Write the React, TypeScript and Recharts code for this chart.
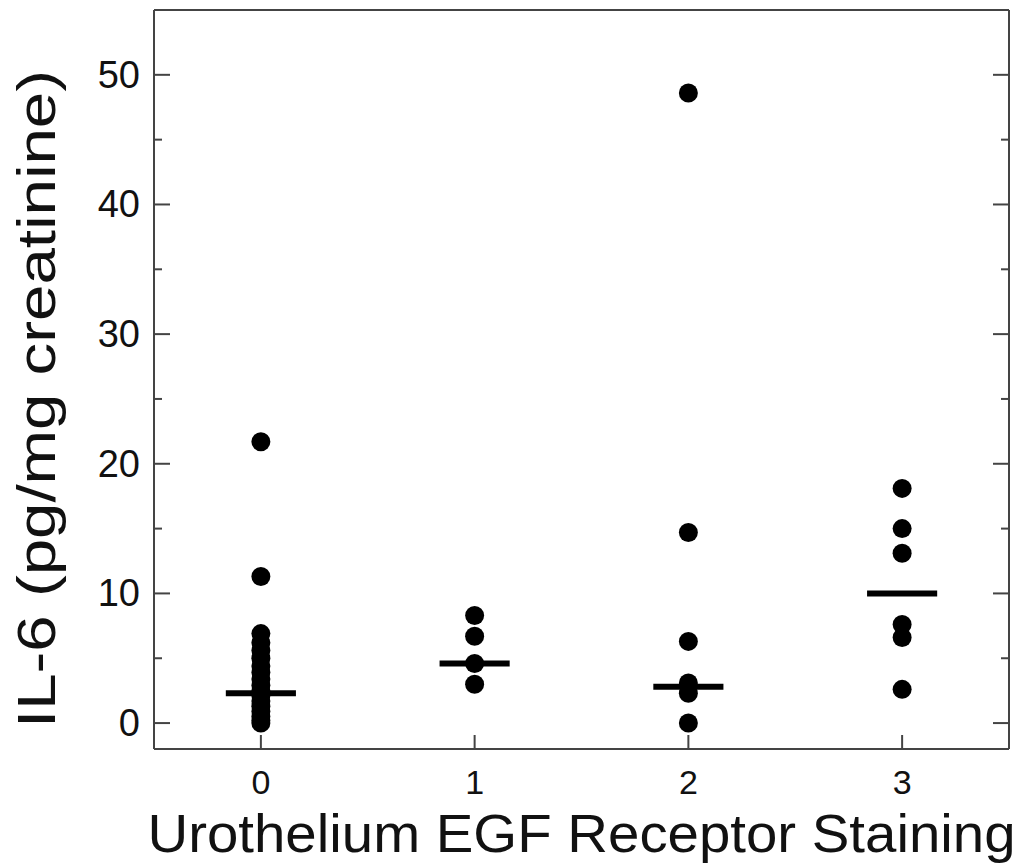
import React from 'react';
import { ScatterChart, Scatter, XAxis, YAxis, ReferenceLine } from 'recharts';

// Staining score groups on the x axis
const stainingScores: number[] = [0, 1, 2, 3];

// IL-6 values (pg/mg creatinine)
const score0Values: number[] = [
  21.7, 11.3, 6.9, 6.2, 5.6, 5.0, 4.4, 3.9, 3.4, 2.9, 2.5, 2.1, 1.7, 1.3, 0.9, 0.5, 0.2, 0.0,
];
const score1Values: number[] = [8.3, 6.7, 4.6, 3.0];
const score2Values: number[] = [48.6, 14.7, 6.3, 3.1, 2.3, 0.0];
const score3Values: number[] = [18.1, 15.0, 13.1, 7.6, 6.6, 2.6];

// Median bar for each group
const medianValues: number[] = [2.3, 4.6, 2.8, 10.0];

// Axis ticks
const yTicks: number[] = [0, 5, 10, 15, 20, 25, 30, 35, 40, 45, 50];
const xTicks: number[] = stainingScores;

const FONT = '"Liberation Sans", Arial, Helvetica, sans-serif';
const AXIS_COLOR = '#444';
const MEDIAN_HALF_WIDTH = 0.164;

const groups = [score0Values, score1Values, score2Values, score3Values];
const points = groups.flatMap((vals, i) =>
  vals.map((v) => ({ x: stainingScores[i], y: v }))
);

const LeftTick = (props: any) => {
  const { x, y, payload } = props;
  const major = payload.value % 10 === 0;
  return (
    <g>
      <line x1={x} y1={y} x2={x + (major ? 16 : 8)} y2={y} stroke={AXIS_COLOR} strokeWidth={2} />
      {major && (
        <text x={x - 14} y={y + 13} textAnchor="end" fontSize={38} fontFamily={FONT} fill="#111">
          {payload.value}
        </text>
      )}
    </g>
  );
};

const RightTick = (props: any) => {
  const { x, y, payload } = props;
  const major = payload.value % 10 === 0;
  return (
    <line x1={x} y1={y} x2={x - (major ? 16 : 8)} y2={y} stroke={AXIS_COLOR} strokeWidth={2} />
  );
};

const BottomTick = (props: any) => {
  const { x, y, payload } = props;
  return (
    <g>
      <line x1={x} y1={y} x2={x} y2={y - 14} stroke={AXIS_COLOR} strokeWidth={2} />
      <text x={x} y={y + 45} textAnchor="middle" fontSize={34} fontFamily={FONT} fill="#111">
        {payload.value}
      </text>
    </g>
  );
};

const TopTick = (props: any) => {
  const { x, y } = props;
  return <line x1={x} y1={y} x2={x} y2={y + 15} stroke={AXIS_COLOR} strokeWidth={2} />;
};

const Dot = (props: any) => <circle cx={props.cx} cy={props.cy} r={9.5} fill="#000" />;

const XTitle = (props: any) => {
  const vb = props.viewBox || { x: 146, y: 741, width: 855, height: 115 };
  return (
    <text
      x={vb.x + vb.width / 2}
      y={vb.y + 103}
      textAnchor="middle"
      fontSize={54}
      fontFamily={FONT}
      fill="#111"
      textLength={868}
      lengthAdjust="spacingAndGlyphs"
    >
      Urothelium EGF Receptor Staining
    </text>
  );
};

const YTitle = () => (
  <text
    x={47}
    y={391}
    transform="rotate(-90 47 391)"
    textAnchor="middle"
    fontSize={53}
    fontFamily={FONT}
    fill="#111"
    textLength={658}
    lengthAdjust="spacingAndGlyphs"
  >
    IL-6 (pg/mg creatinine)
  </text>
);

export default function App() {
  return (
    <div style={{ width: 1015, height: 856, background: '#fff' }}>
      <ScatterChart width={1015} height={856} margin={{ top: 0, right: 0, bottom: 0, left: 0 }}>
        <XAxis
          xAxisId="bottom"
          type="number"
          dataKey="x"
          domain={[-0.5, 3.5]}
          ticks={xTicks}
          orientation="bottom"
          height={115}
          tickSize={0}
          tickMargin={0}
          tickLine={false}
          tick={<BottomTick />}
          axisLine={{ stroke: AXIS_COLOR, strokeWidth: 2 }}
          allowDataOverflow
          label={{ content: <XTitle /> }}
        />
        <XAxis
          xAxisId="top"
          type="number"
          domain={[-0.5, 3.5]}
          ticks={xTicks}
          orientation="top"
          height={2}
          tickSize={0}
          tickMargin={0}
          tickLine={false}
          tick={<TopTick />}
          axisLine={{ stroke: AXIS_COLOR, strokeWidth: 2 }}
          allowDataOverflow
        />
        <YAxis
          yAxisId="left"
          type="number"
          dataKey="y"
          domain={[-2, 55]}
          ticks={yTicks}
          orientation="left"
          width={146}
          tickSize={0}
          tickMargin={0}
          tickLine={false}
          tick={<LeftTick />}
          axisLine={{ stroke: AXIS_COLOR, strokeWidth: 2 }}
          allowDataOverflow
          label={{ content: <YTitle /> }}
        />
        <YAxis
          yAxisId="right"
          type="number"
          domain={[-2, 55]}
          ticks={yTicks}
          orientation="right"
          width={14}
          tickSize={0}
          tickMargin={0}
          tickLine={false}
          tick={<RightTick />}
          axisLine={{ stroke: AXIS_COLOR, strokeWidth: 2 }}
          allowDataOverflow
        />
        <Scatter
          data={points}
          xAxisId="bottom"
          yAxisId="left"
          shape={<Dot />}
          isAnimationActive={false}
        />
        {medianValues.map((m, i) => (
          <ReferenceLine
            key={`median-${i}`}
            xAxisId="bottom"
            yAxisId="left"
            segment={[
              { x: stainingScores[i] - MEDIAN_HALF_WIDTH, y: m },
              { x: stainingScores[i] + MEDIAN_HALF_WIDTH, y: m },
            ]}
            stroke="#000"
            strokeWidth={6}
            ifOverflow="visible"
          />
        ))}
      </ScatterChart>
    </div>
  );
}
